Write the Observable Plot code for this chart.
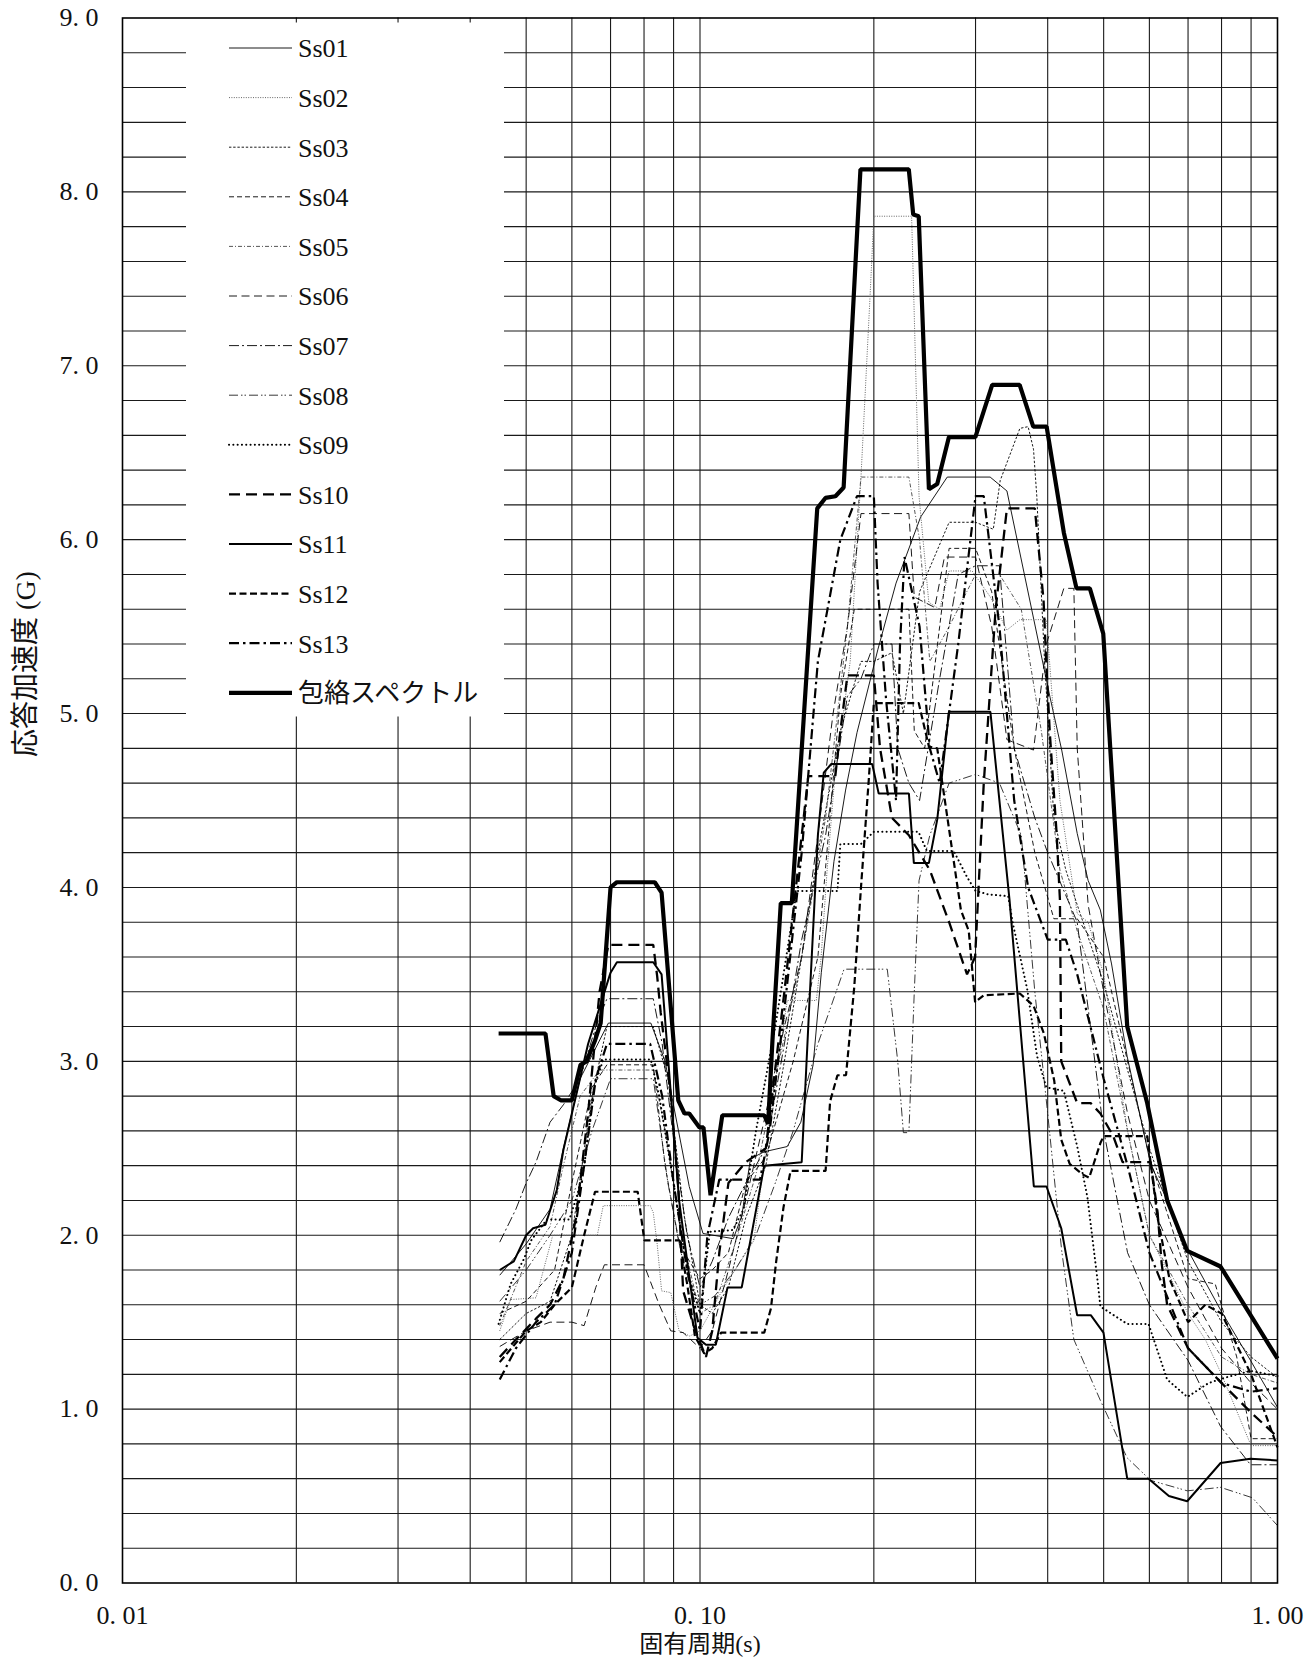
<!DOCTYPE html>
<html><head><meta charset="utf-8">
<script src="https://cdn.jsdelivr.net/npm/d3@7"></script>
<script src="https://cdn.jsdelivr.net/npm/@observablehq/plot@0.6"></script>
<style>
body{margin:0;background:#fff}
#chart{width:1316px;height:1658px}
</style>
</head><body><div id="chart"></div>
<script>
// ---------- data: [period (s), acceleration (G)] ----------
const seriesNames = ["Ss01","Ss02","Ss03","Ss04","Ss05","Ss06","Ss07","Ss08","Ss09","Ss10","Ss11","Ss12","Ss13","包絡スペクトル"];

const ss01 = [[0.045,1.77],[0.05,1.95],[0.055,2.15],[0.058,2.5],[0.062,2.9],[0.0694,3.22],[0.0822,3.22],[0.087,3.0],[0.0958,2.28],[0.1012,2.01],[0.1142,1.98],[0.1181,2.11],[0.1223,2.44],[0.1292,2.48],[0.1416,2.51],[0.1495,2.65],[0.157,2.98],[0.1622,3.51],[0.1706,4.15],[0.1787,4.56],[0.187,4.89],[0.2033,5.37],[0.2185,5.75],[0.241,6.13],[0.268,6.36],[0.318,6.36],[0.34,6.28],[0.404,5.09],[0.423,4.79],[0.45,4.31],[0.47,4.04],[0.4935,3.87],[0.516,3.56],[0.549,3.03],[0.603,2.41],[0.644,2.2],[0.698,1.92],[0.797,1.57],[0.898,1.28],[1.0,1.01]];
const ss02 = [[0.045,1.45],[0.047,1.63],[0.052,1.64],[0.0556,2.0],[0.0664,2.0],[0.068,2.17],[0.082,2.17],[0.083,2.13],[0.0843,1.95],[0.0858,1.68],[0.089,1.67],[0.092,1.45],[0.096,1.42],[0.1,1.45],[0.11,1.7],[0.124,1.97],[0.13,2.5],[0.1416,3.35],[0.159,3.35],[0.162,3.59],[0.166,4.1],[0.171,4.62],[0.182,5.3],[0.19,6.36],[0.197,7.4],[0.2,7.86],[0.2325,7.86],[0.2345,7.4],[0.237,6.82],[0.2395,6.25],[0.249,5.64],[0.26,5.6],[0.27,5.82],[0.296,5.82],[0.3183,5.67],[0.34,5.48],[0.358,5.54],[0.398,5.54],[0.42,4.5],[0.45,3.85],[0.47,3.8],[0.5,3.5],[0.55,2.6],[0.6,2.0],[0.7,1.55],[0.75,1.4],[0.8,1.2],[0.9,0.79],[1.0,0.79]];
const ss03 = [[0.045,1.4],[0.05,1.55],[0.055,1.62],[0.06,2.0],[0.065,2.8],[0.069,3.2],[0.083,3.2],[0.088,2.9],[0.094,2.1],[0.1,1.6],[0.105,1.55],[0.112,1.7],[0.12,2.1],[0.13,2.4],[0.14,3.0],[0.15,3.6],[0.16,4.2],[0.175,4.9],[0.19,5.3],[0.2,5.3],[0.215,5.35],[0.225,5.0],[0.24,5.7],[0.27,6.1],[0.3,6.1],[0.322,6.06],[0.331,6.34],[0.358,6.64],[0.37,6.65],[0.378,6.52],[0.383,6.25],[0.395,5.3],[0.41,4.4],[0.43,4.1],[0.45,3.9],[0.5,3.45],[0.55,2.95],[0.6,2.5],[0.7,1.85],[0.8,1.5],[0.9,1.3],[1.0,1.18]];
const ss04 = [[0.045,1.55],[0.05,1.62],[0.056,1.8],[0.06,2.3],[0.065,2.85],[0.069,2.98],[0.083,2.98],[0.087,2.4],[0.092,1.95],[0.1,1.75],[0.105,1.8],[0.112,1.9],[0.12,2.3],[0.13,2.45],[0.145,3.0],[0.16,3.6],[0.175,5.1],[0.185,5.6],[0.2,5.6],[0.23,5.6],[0.235,4.9],[0.245,4.8],[0.26,5.5],[0.27,5.95],[0.3,5.95],[0.32,5.7],[0.35,4.8],[0.38,4.2],[0.41,3.82],[0.45,3.82],[0.5,3.6],[0.55,3.0],[0.6,2.45],[0.7,1.75],[0.78,1.72],[0.85,1.3],[0.9,0.83],[1.0,0.83]];
const ss05 = [[0.045,1.48],[0.05,1.85],[0.055,2.05],[0.058,2.4],[0.062,2.8],[0.067,2.95],[0.083,2.95],[0.087,2.6],[0.093,2.0],[0.1,1.55],[0.106,1.6],[0.115,1.95],[0.125,2.35],[0.135,2.9],[0.15,3.6],[0.165,4.4],[0.18,5.5],[0.19,6.36],[0.23,6.36],[0.24,6.0],[0.25,5.3],[0.27,5.5],[0.3,5.8],[0.33,5.8],[0.36,5.6],[0.39,4.9],[0.42,4.1],[0.45,3.75],[0.5,3.3],[0.55,2.6],[0.6,2.0],[0.7,1.6],[0.8,1.3],[0.9,1.2],[1.0,1.15]];
const ss06 = [[0.045,1.36],[0.05,1.45],[0.055,1.5],[0.06,1.5],[0.063,1.48],[0.066,1.7],[0.0683,1.83],[0.08,1.83],[0.085,1.6],[0.089,1.45],[0.0935,1.44],[0.1,1.35],[0.105,1.45],[0.112,1.8],[0.12,2.2],[0.13,2.7],[0.14,3.2],[0.15,3.6],[0.16,4.3],[0.17,5.0],[0.18,5.5],[0.19,6.15],[0.23,6.15],[0.235,5.67],[0.255,5.61],[0.265,5.9],[0.3,5.9],[0.32,5.5],[0.34,4.85],[0.378,4.79],[0.398,5.4],[0.4266,5.72],[0.444,5.72],[0.45,4.8],[0.47,3.9],[0.5,3.4],[0.55,2.7],[0.6,2.2],[0.7,1.7],[0.8,1.35],[0.9,1.15],[1.0,1.0]];
const ss07 = [[0.045,1.96],[0.048,2.15],[0.05,2.3],[0.052,2.42],[0.055,2.65],[0.058,2.75],[0.062,2.9],[0.066,3.2],[0.069,3.36],[0.083,3.36],[0.086,3.1],[0.09,2.55],[0.095,2.0],[0.1,1.7],[0.105,1.85],[0.112,2.1],[0.12,2.3],[0.13,2.5],[0.14,3.1],[0.15,3.7],[0.165,4.3],[0.18,5.1],[0.19,5.2],[0.2,5.4],[0.215,5.4],[0.22,4.8],[0.23,4.6],[0.24,4.5],[0.26,5.2],[0.28,5.8],[0.3,5.85],[0.33,5.85],[0.35,4.8],[0.38,4.4],[0.4,4.2],[0.45,3.8],[0.5,2.6],[0.55,1.9],[0.6,1.6],[0.7,1.28],[0.797,0.9],[0.86,0.76],[0.898,0.68],[1.0,0.68]];
const ss08 = [[0.045,1.62],[0.05,1.8],[0.055,2.0],[0.06,2.2],[0.065,2.6],[0.07,2.9],[0.083,2.9],[0.088,2.3],[0.094,1.8],[0.1,1.6],[0.106,1.65],[0.115,1.8],[0.125,2.0],[0.135,2.3],[0.145,2.6],[0.16,3.1],[0.1776,3.53],[0.211,3.53],[0.22,3.0],[0.225,2.59],[0.23,2.59],[0.235,3.4],[0.2395,4.04],[0.25,4.3],[0.27,4.6],[0.3,4.65],[0.33,4.6],[0.36,4.3],[0.38,3.4],[0.4,2.7],[0.423,1.91],[0.444,1.4],[0.4935,1.05],[0.549,0.72],[0.603,0.59],[0.698,0.53],[0.797,0.55],[0.905,0.49],[1.0,0.33]];
const ss09 = [[0.0448,1.49],[0.047,1.72],[0.0495,1.86],[0.051,1.97],[0.0543,2.09],[0.0594,2.09],[0.0614,2.24],[0.063,2.39],[0.0655,2.85],[0.068,3.01],[0.0822,3.01],[0.085,2.8],[0.09,2.3],[0.095,1.8],[0.1,1.55],[0.104,2.02],[0.114,2.03],[0.119,2.15],[0.125,2.6],[0.135,3.2],[0.147,3.98],[0.173,3.98],[0.175,4.25],[0.19,4.25],[0.2,4.32],[0.239,4.32],[0.247,4.21],[0.275,4.21],[0.29,4.06],[0.3,3.98],[0.3156,3.96],[0.3417,3.95],[0.3483,3.79],[0.3689,3.41],[0.3834,3.03],[0.398,2.85],[0.4266,2.83],[0.45,2.51],[0.4686,2.22],[0.488,1.74],[0.4935,1.59],[0.5493,1.49],[0.598,1.49],[0.644,1.17],[0.698,1.07],[0.76,1.15],[0.81,1.18],[0.898,1.22],[1.0,1.19]];
const ss10 = [[0.045,1.3],[0.048,1.4],[0.052,1.52],[0.055,1.6],[0.058,1.75],[0.061,2.1],[0.064,2.7],[0.067,3.4],[0.0694,3.67],[0.083,3.67],[0.0843,3.49],[0.0855,3.28],[0.0887,2.85],[0.0917,2.28],[0.0935,1.68],[0.0977,1.47],[0.1024,1.3],[0.105,1.45],[0.108,1.9],[0.112,2.3],[0.12,2.42],[0.13,2.5],[0.14,3.4],[0.15,4.3],[0.154,4.64],[0.1715,4.64],[0.175,4.9],[0.18,5.22],[0.2,5.22],[0.205,4.8],[0.215,4.4],[0.23,4.3],[0.25,4.1],[0.27,3.8],[0.29,3.5],[0.2995,3.6],[0.31,4.6],[0.325,5.6],[0.34,6.18],[0.38,6.18],[0.3935,5.65],[0.398,5.27],[0.4034,4.89],[0.4145,4.31],[0.42,3.93],[0.4222,3.0],[0.4499,2.76],[0.4747,2.76],[0.4935,2.7],[0.5195,2.57],[0.5392,2.42],[0.603,2.42],[0.62,2.13],[0.63,1.84],[0.644,1.6],[0.7,1.35],[0.8,1.15],[0.9,0.98],[1.0,0.84]];
const ss11 = [[0.045,1.8],[0.0476,1.85],[0.05,2.0],[0.0514,2.04],[0.054,2.06],[0.0565,2.26],[0.058,2.49],[0.064,3.1],[0.07,3.51],[0.0718,3.57],[0.083,3.57],[0.0858,3.5],[0.092,2.2],[0.099,1.41],[0.1024,1.37],[0.1065,1.37],[0.1116,1.7],[0.1181,1.7],[0.1292,2.4],[0.15,2.42],[0.1545,3.3],[0.16,4.3],[0.1638,4.66],[0.1688,4.71],[0.1987,4.71],[0.2039,4.54],[0.23,4.54],[0.2346,4.14],[0.2491,4.14],[0.2575,4.39],[0.2698,5.01],[0.3183,5.01],[0.3435,3.93],[0.3785,2.28],[0.3981,2.28],[0.4222,2.04],[0.4499,1.54],[0.475,1.54],[0.4996,1.44],[0.5493,0.6],[0.598,0.6],[0.6485,0.5],[0.6976,0.47],[0.797,0.69],[0.898,0.715],[1.0,0.705]];
const ss12 = [[0.045,1.27],[0.048,1.38],[0.05,1.45],[0.053,1.5],[0.056,1.6],[0.06,1.7],[0.063,2.0],[0.0658,2.25],[0.078,2.25],[0.0801,1.97],[0.0922,1.97],[0.095,1.72],[0.098,1.42],[0.1017,1.32],[0.105,1.35],[0.1088,1.44],[0.1292,1.44],[0.1327,1.58],[0.1355,1.85],[0.1395,2.16],[0.1435,2.37],[0.165,2.37],[0.168,2.77],[0.173,2.92],[0.179,2.92],[0.185,3.43],[0.19,4.0],[0.196,4.62],[0.2,5.06],[0.2392,5.06],[0.2491,4.81],[0.2575,4.8],[0.283,3.87],[0.292,3.75],[0.2995,3.34],[0.31,3.38],[0.358,3.39],[0.378,3.32],[0.394,3.16],[0.4105,2.89],[0.4222,2.55],[0.4367,2.41],[0.4597,2.35],[0.4719,2.33],[0.4935,2.53],[0.5,2.57],[0.595,2.57],[0.62,2.1],[0.65,1.75],[0.7,1.5],[0.75,1.6],[0.8,1.55],[0.9,1.2],[1.0,0.78]];
const ss13 = [[0.045,1.17],[0.048,1.35],[0.052,1.5],[0.056,1.6],[0.06,1.9],[0.063,2.4],[0.066,2.9],[0.069,3.1],[0.082,3.1],[0.086,2.8],[0.09,2.3],[0.095,1.8],[0.1,1.45],[0.103,2.0],[0.108,2.32],[0.127,2.32],[0.132,2.6],[0.14,3.3],[0.15,4.2],[0.16,5.3],[0.175,6.0],[0.187,6.25],[0.2,6.25],[0.203,5.75],[0.21,5.08],[0.2185,4.5],[0.222,5.4],[0.226,5.9],[0.24,5.5],[0.25,4.8],[0.26,4.6],[0.28,5.4],[0.3,6.25],[0.31,6.25],[0.33,5.5],[0.35,4.5],[0.37,4.0],[0.4,3.7],[0.43,3.7],[0.45,3.5],[0.5,2.9],[0.55,2.4],[0.6,1.9],[0.7,1.35],[0.8,1.15],[0.9,1.1],[1.0,1.12]];
const envelope = [[0.0448,3.16],[0.054,3.16],[0.0558,2.8],[0.0574,2.776],[0.06,2.776],[0.0621,2.98],[0.0636,3.0],[0.0658,3.12],[0.0673,3.22],[0.07,4.0],[0.0718,4.03],[0.0835,4.03],[0.0858,3.97],[0.0917,2.776],[0.094,2.7],[0.0958,2.7],[0.0998,2.62],[0.1014,2.62],[0.1043,2.23],[0.1093,2.69],[0.1292,2.69],[0.1312,2.64],[0.1335,3.12],[0.138,3.91],[0.1442,3.91],[0.1596,6.18],[0.1649,6.24],[0.1716,6.25],[0.1773,6.3],[0.1896,8.13],[0.2299,8.13],[0.234,7.87],[0.2392,7.86],[0.2491,6.29],[0.2575,6.32],[0.2698,6.59],[0.2998,6.59],[0.3206,6.89],[0.3577,6.89],[0.3776,6.65],[0.3983,6.65],[0.4266,6.04],[0.4487,5.72],[0.4732,5.72],[0.4992,5.46],[0.5493,3.2],[0.5948,2.76],[0.6442,2.2],[0.6976,1.91],[0.7968,1.82],[1.0,1.29]];

const allSeries = [ss01,ss02,ss03,ss04,ss05,ss06,ss07,ss08,ss09,ss10,ss11,ss12,ss13,envelope];

const yTickValues = [0,1,2,3,4,5,6,7,8,9];
const yTickLabels = ["0. 0","1. 0","2. 0","3. 0","4. 0","5. 0","6. 0","7. 0","8. 0","9. 0"];
const xTickValues = [0.01,0.1,1];
const xTickLabels = ["0. 01","0. 10","1. 00"];
const xGridValues = [0.02,0.03,0.04,0.05,0.06,0.07,0.08,0.09,0.1,0.2,0.3,0.4,0.5,0.6,0.7,0.8,0.9];
const yGridValues = [0.2,0.4,0.6,0.8,1,1.2,1.4,1.6,1.8,2,2.2,2.4,2.6,2.8,3,3.2,3.4,3.6,3.8,4,4.2,4.4,4.6,4.8,5,5.2,5.4,5.6,5.8,6,6.2,6.4,6.6,6.8,7,7.2,7.4,7.6,7.8,8,8.2,8.4,8.6,8.8];
const xTitle = "固有周期(s)";
const yTitle = "応答加速度 (G)";

// ---------- styles ----------
const lineStyles = [
  {stroke:"#000", w:0.9, dash:null},            // Ss01
  {stroke:"#666", w:1.0, dash:"1,1.4"},         // Ss02
  {stroke:"#000", w:0.9, dash:"2.4,1.8"},       // Ss03
  {stroke:"#000", w:0.9, dash:"5,3"},           // Ss04
  {stroke:"#444", w:0.9, dash:"4,2,1,2"},       // Ss05
  {stroke:"#000", w:0.9, dash:"8,4.5"},         // Ss06
  {stroke:"#000", w:0.9, dash:"10,3,2,3"},      // Ss07
  {stroke:"#222", w:0.9, dash:"9,3,1.5,2,1.5,3"}, // Ss08
  {stroke:"#000", w:2.0, dash:"0.1,4.2", cap:"round"}, // Ss09
  {stroke:"#000", w:2.3, dash:"11,6"},          // Ss10
  {stroke:"#000", w:2.0, dash:null},            // Ss11
  {stroke:"#000", w:2.2, dash:"7,3.5"},         // Ss12
  {stroke:"#000", w:2.2, dash:"10,4,2.5,4"},    // Ss13
  {stroke:"#000", w:4.2, dash:null}             // envelope
];

const FONT = "'Liberation Serif','Noto Sans CJK JP',serif";

const lineMarks = allSeries.map((s, i) => {
  const st = lineStyles[i];
  const rows = s.map(([T, G]) => ({T, G}));
  return Plot.line(rows, {
    x: "T", y: "G",
    stroke: st.stroke, strokeWidth: st.w,
    strokeDasharray: st.dash || undefined,
    strokeLinecap: st.cap || "butt",
    strokeLinejoin: "miter"
  });
});

const W = 1316, H = 1658;
const mL = 122, mR = 39, mT = 17.5, mB = 75.5;

const chart = Plot.plot({
  width: W, height: H,
  marginLeft: mL, marginRight: mR, marginTop: mT, marginBottom: mB,
  x: {type: "log", domain: [0.01, 1], axis: null},
  y: {domain: [0, 9], axis: null},
  style: {background: "#fff", fontFamily: FONT},
  marks: [
    Plot.ruleX(xGridValues, {stroke: "#1a1a1a", strokeWidth: 1.1}),
    Plot.ruleY(yGridValues, {stroke: "#1a1a1a", strokeWidth: 1.1}),
    ...lineMarks,
    Plot.frame({stroke: "#000", strokeWidth: 1.6}),
    Plot.text(yTickValues, {x: () => 0.01, y: d => d, text: (d, i) => yTickLabels[i], textAnchor: "end", dx: -24, fontSize: 26, fill: "#111", fontFamily: FONT}),
    Plot.text(xTickValues, {x: d => d, y: () => 0, text: (d, i) => xTickLabels[i], dy: 33, fontSize: 26, fill: "#111", fontFamily: FONT})
  ]
});

document.getElementById("chart").appendChild(chart);

// ---------- legend (inside plot, upper-left) and axis titles ----------
const svg = d3.select(chart);
const lg = svg.append("g");
lg.append("rect").attr("x", 186).attr("y", 22.5).attr("width", 318).attr("height", 694).attr("fill", "#fff");
seriesNames.forEach((name, i) => {
  const st = lineStyles[i];
  const yy = 48 + i * 49.6;
  const ln = lg.append("line").attr("x1", 229).attr("x2", 292).attr("y1", yy).attr("y2", yy)
    .attr("stroke", st.stroke).attr("stroke-width", st.w).attr("stroke-linecap", st.cap || "butt");
  if (st.dash) ln.attr("stroke-dasharray", st.dash);
  lg.append("text").attr("x", 298).attr("y", yy).attr("dy", "0.36em").attr("text-anchor", "start")
    .attr("font-size", 26).attr("font-family", FONT).attr("fill", "#111").text(name);
});

svg.append("text").attr("x", 700).attr("y", 1643).attr("dy", "0.36em").attr("text-anchor", "middle")
  .attr("font-size", 24).attr("font-family", FONT).attr("fill", "#111").text(xTitle);
svg.append("text").attr("transform", "translate(25,664) rotate(-90)").attr("dy", "0.36em").attr("text-anchor", "middle")
  .attr("font-size", 28).attr("font-family", FONT).attr("fill", "#111").text(yTitle);
</script>
</body></html>
